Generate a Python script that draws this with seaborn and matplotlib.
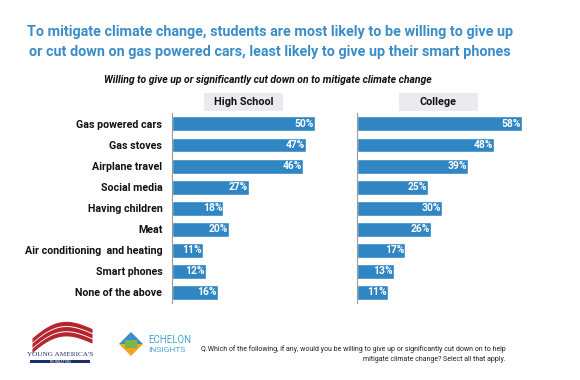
import numpy as np
import pandas as pd
import matplotlib
matplotlib.use("Agg")
import matplotlib.pyplot as plt
import seaborn as sns
from matplotlib.patches import Rectangle, Polygon

categories = ["Gas powered cars", "Gas stoves", "Airplane travel", "Social media",
              "Having children", "Meat", "Air conditioning  and heating",
              "Smart phones", "None of the above"]
high_school = [50, 47, 46, 27, 18, 20, 11, 12, 16]
college = [58, 48, 39, 25, 30, 26, 17, 13, 11]
panel_titles = ["High School", "College"]

title = ("To mitigate climate change, students are most likely to be willing to give up\n"
         "or cut down on gas powered cars, least likely to give up their smart phones")
subtitle = "Willing to give up or significantly cut down on to mitigate climate change"
footnote = ("Q.Which of the following, if any, would you be willing to give up or significantly cut down on to help\n"
            "mitigate climate change? Select all that apply.")

sns.set_theme(style="white")
plt.rcParams["font.family"] = ["Roboto", "DejaVu Sans"]

W, H = 580, 380
fig = plt.figure(figsize=(W / 100, H / 100), dpi=100)
fig.patch.set_facecolor("white")

BAR = "#2f86c3"
BLUE_T = "#3a8dc8"

def fx(px):
    return px / W

def fy(py):
    return 1 - py / H

top_px, bot_px = 113.4, 303
ax_h = (bot_px - top_px) / H
ax_b = fy(bot_px)
scale = 2.85  # px per percent

panels = [(172, 55, high_school), (357, 70, college)]
for (x0, xmax, vals), ptitle in zip(panels, panel_titles):
    ax = fig.add_axes([fx(x0), ax_b, fx(xmax * scale), ax_h])
    df = pd.DataFrame({"cat": categories, "val": vals})
    sns.barplot(data=df, x="val", y="cat", orient="h", color=BAR, saturation=1,
                width=0.71, ax=ax)
    ax.set_xlim(0, xmax)
    ax.set_ylim(len(categories) - 0.5, -0.5)
    ax.set_xlabel("")
    ax.set_ylabel("")
    ax.set_xticks([])
    for s in ["top", "right", "bottom"]:
        ax.spines[s].set_visible(False)
    ax.spines["left"].set_color("#9a9a9a")
    ax.spines["left"].set_linewidth(0.8)
    ax.patch.set_alpha(0)
    for i, v in enumerate(vals):
        ax.text(v - 0.4, i, f"{v}%", ha="right", va="center", color="white",
                fontsize=7.4, fontweight="bold")
    if x0 == 172:
        ax.tick_params(axis="y", length=0, pad=7)
        for lab in ax.get_yticklabels():
            lab.set_fontsize(7.7)
            lab.set_fontweight("bold")
            lab.set_color("#111111")
    else:
        ax.set_yticks([])

# panel headers
for (bx, bw), txt in zip([(204, 79), (399, 79)], panel_titles):
    fig.patches.append(Rectangle((fx(bx), fy(111)), fx(bw), 18 / H,
                                 transform=fig.transFigure, facecolor="#ebebef",
                                 edgecolor="none"))
    fig.text(fx(bx + bw / 2), fy(102), txt, ha="center", va="center",
             fontsize=7.8, fontweight="bold", color="#111111")

# title & subtitle
fig.text(fx(270), fy(42), title, ha="center", va="center", fontsize=10.4,
         fontweight="bold", color=BLUE_T, linespacing=1.5)
fig.text(fx(268), fy(80), subtitle, ha="center", va="center", fontsize=7.5,
         fontweight="bold", style="italic", color="#111111")

# footnote
fig.text(fx(506), fy(354), footnote, ha="right", va="center", fontsize=5.0,
         color="#222222", linespacing=1.7, multialignment="right")

# Young America's logo (approximation)
lax = fig.add_axes([fx(26), fy(366), fx(68), 50 / H])
lax.set_xlim(0, 68)
lax.set_ylim(50, 0)
lax.axis("off")
t = np.linspace(0, 1, 50)
for k, off in enumerate([0, 7, 14]):
    xs = 6 + 60 * t
    ytop = 22 - 16 * np.sin(np.pi * t * 0.9) * (1 - 0.3 * t) + off * 0.6 - 6 * t + k
    lax.fill_between(xs, ytop, ytop + 4.2, color="#b3262e", lw=0)
lax.text(34, 39, "YOUNG AMERICA'S", ha="center", va="center", fontsize=5.2,
         color="#1c2f6b", family=["Liberation Serif", "DejaVu Serif"])
lax.add_patch(Rectangle((4, 44), 60, 3.2, facecolor="#1c2f6b", edgecolor="none"))
lax.text(34, 45.6, "FOUNDATION", ha="center", va="center", fontsize=2.5,
         color="white")

# Echelon Insights logo (approximation)
eax = fig.add_axes([fx(116), fy(362), fx(80), 36 / H])
eax.set_xlim(0, 80)
eax.set_ylim(36, 0)
eax.axis("off")
eax.add_patch(Polygon([(3, 18), (15, 6), (27, 18)], closed=True, facecolor="#3a8dc8", edgecolor="none"))
eax.add_patch(Polygon([(3, 18), (27, 18), (15, 30)], closed=True, facecolor="#f2a227", edgecolor="none"))
eax.add_patch(Polygon([(9, 14), (21, 14), (21, 22), (9, 22)], closed=True, facecolor="#7ab648", edgecolor="none"))
eax.text(32, 14, "ECHELON", ha="left", va="center", fontsize=7, color="#4aa3d8")
eax.text(32, 24, "INSIGHTS", ha="left", va="center", fontsize=6, color="#4aa3d8")

fig.savefig("out.png", dpi=100, facecolor="white")
